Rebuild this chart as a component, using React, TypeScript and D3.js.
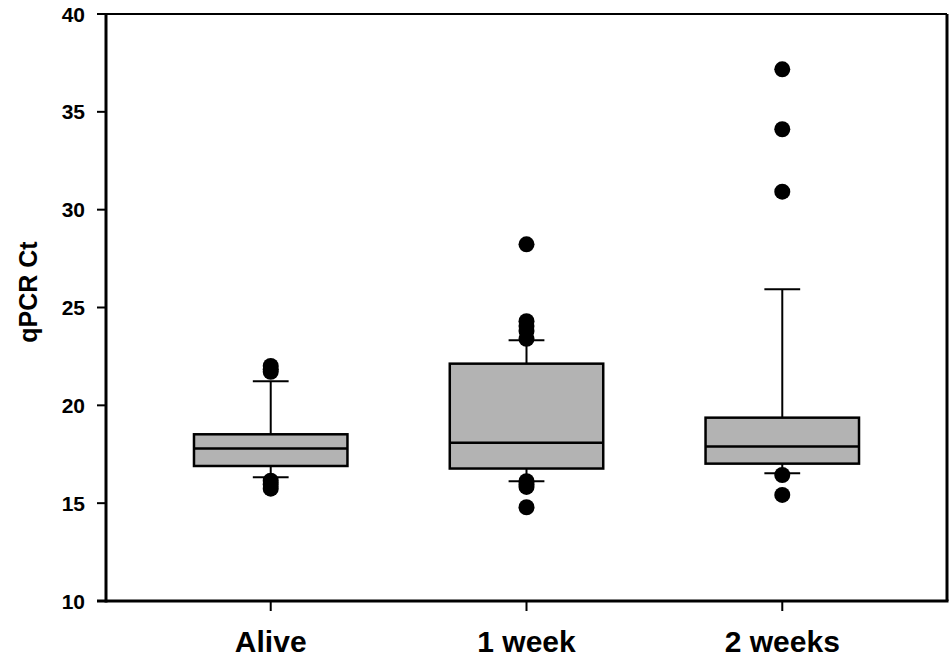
import React from "react";
import * as d3 from "d3";

const categories = ["Alive", "1 week", "2 weeks"];
const q1 = [16.9, 16.77, 17.02];
const medians = [17.79, 18.09, 17.89];
const q3 = [18.52, 22.13, 19.37];
const whiskerLow = [16.33, 16.12, 16.53];
const whiskerHigh = [21.23, 23.33, 25.93];
const outliersAlive = [22.01, 21.85, 21.71, 16.15, 15.95, 15.74];
const outliers1Week = [28.23, 24.3, 24.05, 23.8, 23.4, 16.12, 15.95, 15.83, 14.79];
const outliers2Weeks = [37.17, 34.11, 30.92, 16.44, 15.42];
const outliers = [outliersAlive, outliers1Week, outliers2Weeks];
const yTicks = [10, 15, 20, 25, 30, 35, 40];

const W = 951;
const H = 660;
const left = 106;
const right = 947;
const top = 14;
const bottom = 601;
const font = "'Liberation Sans', Arial, sans-serif";

export default function App() {
  const x = d3.scalePoint<string>().domain(categories).range([left, right]).padding(0.644);
  const y = d3.scaleLinear().domain([10, 40]).range([bottom, top]);
  const step = x.step();
  const boxW = step * 0.6;
  const capW = step * 0.14;

  return (
    <svg width={W} height={H} style={{ position: "absolute", left: 0, top: 0, background: "#fff" }}>
      {/* frame */}
      <line x1={left} x2={right} y1={top} y2={top} stroke="#000" strokeWidth={2} />
      <line x1={right} x2={right} y1={top} y2={bottom} stroke="#000" strokeWidth={3} />
      {categories.map((c, i) => {
        const cx = x(c)!;
        return (
          <g key={c}>
            <line x1={cx} x2={cx} y1={y(q3[i])} y2={y(whiskerHigh[i])} stroke="#000" strokeWidth={2} />
            <line x1={cx} x2={cx} y1={y(q1[i])} y2={y(whiskerLow[i])} stroke="#000" strokeWidth={2} />
            <line x1={cx - capW / 2} x2={cx + capW / 2} y1={y(whiskerHigh[i])} y2={y(whiskerHigh[i])} stroke="#000" strokeWidth={2} />
            <line x1={cx - capW / 2} x2={cx + capW / 2} y1={y(whiskerLow[i])} y2={y(whiskerLow[i])} stroke="#000" strokeWidth={2} />
            <rect x={cx - boxW / 2} y={y(q3[i])} width={boxW} height={y(q1[i]) - y(q3[i])} fill="#b3b3b3" stroke="#000" strokeWidth={2.5} />
            <line x1={cx - boxW / 2} x2={cx + boxW / 2} y1={y(medians[i])} y2={y(medians[i])} stroke="#000" strokeWidth={2.5} />
            {outliers[i].map((v, j) => (
              <circle key={j} cx={cx} cy={y(v)} r={8} fill="#000" />
            ))}
          </g>
        );
      })}
      {/* y axis */}
      <line x1={left} x2={left} y1={top - 1} y2={bottom + 1.5} stroke="#000" strokeWidth={3} />
      {yTicks.map((t) => (
        <g key={t}>
          <line x1={left - 9} x2={left} y1={y(t)} y2={y(t)} stroke="#000" strokeWidth={2} />
          <text x={left - 21} y={y(t)} dy="0.36em" textAnchor="end" fontFamily={font} fontWeight="bold" fontSize={21} fill="#000">
            {t}
          </text>
        </g>
      ))}
      {/* x axis */}
      <line x1={left - 9} x2={right + 1.5} y1={bottom} y2={bottom} stroke="#000" strokeWidth={3} />
      {categories.map((c) => (
        <g key={c}>
          <line x1={x(c)!} x2={x(c)!} y1={bottom} y2={bottom + 10} stroke="#000" strokeWidth={2} />
          <text x={x(c)!} y={652} textAnchor="middle" fontFamily={font} fontWeight="bold" fontSize={30} fill="#000">
            {c}
          </text>
        </g>
      ))}
      <text transform={`translate(37,292) rotate(-90)`} textAnchor="middle" fontFamily={font} fontWeight="bold" fontSize={25} fill="#000">
        qPCR Ct
      </text>
    </svg>
  );
}
